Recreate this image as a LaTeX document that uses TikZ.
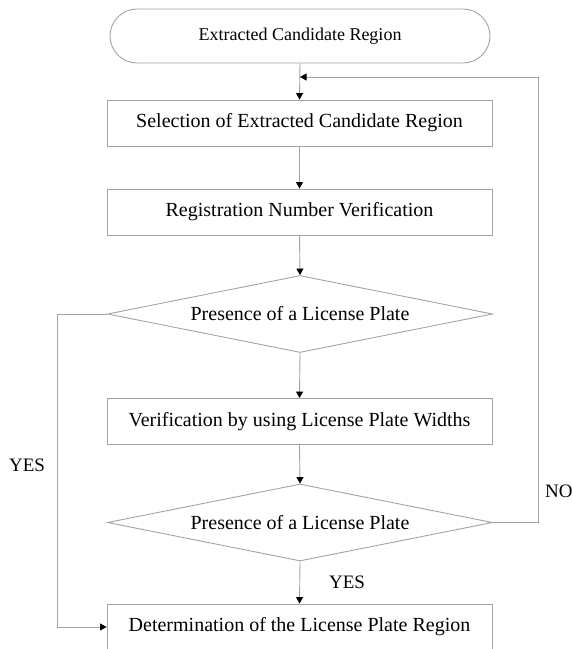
\documentclass[tikz,border=0pt]{standalone}
\usepackage{fontspec}
\setmainfont{Liberation Serif}
\usetikzlibrary{shapes.geometric,arrows.meta}

\definecolor{edgegray}{HTML}{A3A3A3}

\tikzset{
  base/.style={draw=edgegray, line width=0.9pt, text=black, inner sep=0pt},
  terminal/.style={base, rectangle, rounded corners=27pt,
    minimum width=380pt, minimum height=54pt, font=\fontsize{18}{22}\selectfont},
  process/.style={base, rectangle,
    minimum width=385pt, minimum height=46pt, font=\fontsize{20}{24}\selectfont},
  decision/.style={base, diamond, aspect=5.08,
    minimum width=385pt, minimum height=77pt, font=\fontsize{20}{24}\selectfont},
  flow/.style={draw=edgegray, line width=0.9pt,
    -{Triangle[length=6.5pt,width=7pt,color=black]}},
  plainline/.style={draw=edgegray, line width=0.9pt},
  answer/.style={text=black, inner sep=0pt, font=\fontsize{19}{22}\selectfont}
}

\begin{document}
\begin{tikzpicture}[x=1pt, y=-1pt]
  \useasboundingbox (0,0) rectangle (572,649);
  \clip (0,0) rectangle (572,649);

  % flow chart blocks
  \node[terminal] (start) at (300,36) {Extracted Candidate Region};
  \node[process]  (select) at (299.5,123) {Selection of Extracted Candidate Region};
  \node[process]  (regnum) at (299.5,212) {Registration Number Verification};
  \node[decision] (check1) at (300,314) {Presence of a License Plate};
  \node[process]  (width) at (299.5,421.5) {Verification by using License Plate Widths};
  \node[decision] (check2) at (300,522.5) {Presence of a License Plate};
  \node[process]  (result) at (299.5,627) {Determination of the License Plate Region};

  % routing points of the two side branches
  \coordinate (merge) at (300,77);
  \coordinate (rtop) at (538,77);
  \coordinate (rbot) at (538,522.5);
  \coordinate (ltop) at (57,314);
  \coordinate (lbot) at (57,627);

  % main line
  \draw[flow] (start.south) -- (select.north);
  \draw[flow] (select.south) -- (regnum.north);
  \draw[flow] (regnum.south) -- (check1.north);
  \draw[flow] (check1.south) -- (width.north);
  \draw[flow] (width.south) -- (check2.north);
  \draw[flow] (check2.south) -- (result.north);

  % NO branch back to the selection step
  \draw[flow] (check2.east) -- (rbot) -- (rtop) -- (merge);

  % YES branch straight to the result
  \draw[flow] (check1.west) -- (ltop) -- (lbot) -- (result.west);

  % branch labels
  \node[answer] (yesleft) at (27,465) {YES};
  \node[answer, anchor=west] (no) at (545,491) {NO};
  \node[answer] (yesdown) at (347,582) {YES};
\end{tikzpicture}
\end{document}
